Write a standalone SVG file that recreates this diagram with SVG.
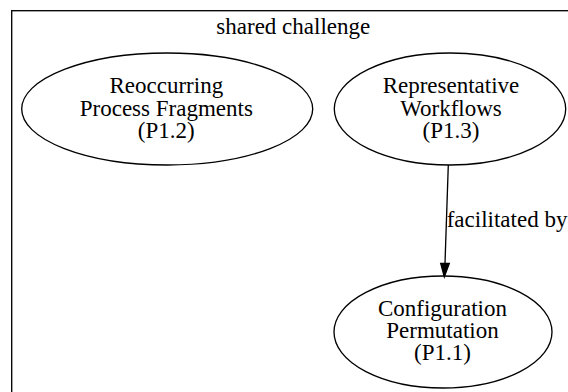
<svg xmlns="http://www.w3.org/2000/svg" width="568" height="392" viewBox="0 0 568 392">
  <style>
    text { font-family: "Liberation Serif", "Times New Roman", serif; font-size: 23px; fill: #000; }
    .node ellipse { fill: none; stroke: #000; stroke-width: 1.33; }
    .node text { text-anchor: middle; }
    .cluster rect { fill: none; stroke: #000; stroke-width: 1.33; }
    .edge path { fill: none; stroke: #000; stroke-width: 1.33; }
    .edge polygon { fill: #000; stroke: #000; stroke-width: 1.33; }
  </style>
  <rect width="568" height="392" fill="#fff"/>
  <g id="cluster_shared" class="cluster">
    <rect x="11.7" y="10.7" width="620" height="440"/>
    <text x="293.3" y="34" text-anchor="middle">shared challenge</text>
  </g>
  <g id="p12" class="node">
    <ellipse cx="167.2" cy="109" rx="145.5" ry="56"/>
    <text x="166.3" y="92.5">Reoccurring</text>
    <text x="166.3" y="115.5">Process Fragments</text>
    <text x="166.3" y="137.5">(P1.2)</text>
  </g>
  <g id="p13" class="node">
    <ellipse cx="450" cy="109" rx="115.7" ry="56"/>
    <text x="451" y="92.5">Representative</text>
    <text x="451" y="115.5">Workflows</text>
    <text x="451" y="137.5">(P1.3)</text>
  </g>
  <g id="p11" class="node">
    <ellipse cx="443" cy="332" rx="109" ry="56"/>
    <text x="442.5" y="315.5">Configuration</text>
    <text x="442.5" y="338">Permutation</text>
    <text x="442.5" y="360">(P1.1)</text>
  </g>
  <g id="edges">
    <g class="edge">
      <path d="M448.3,165 L445,263.3"/>
      <polygon points="440.7,263.3 444.3,276.7 449.3,263.3"/>
      <text x="446.7" y="226.7">facilitated by</text>
    </g>
  </g>
</svg>
